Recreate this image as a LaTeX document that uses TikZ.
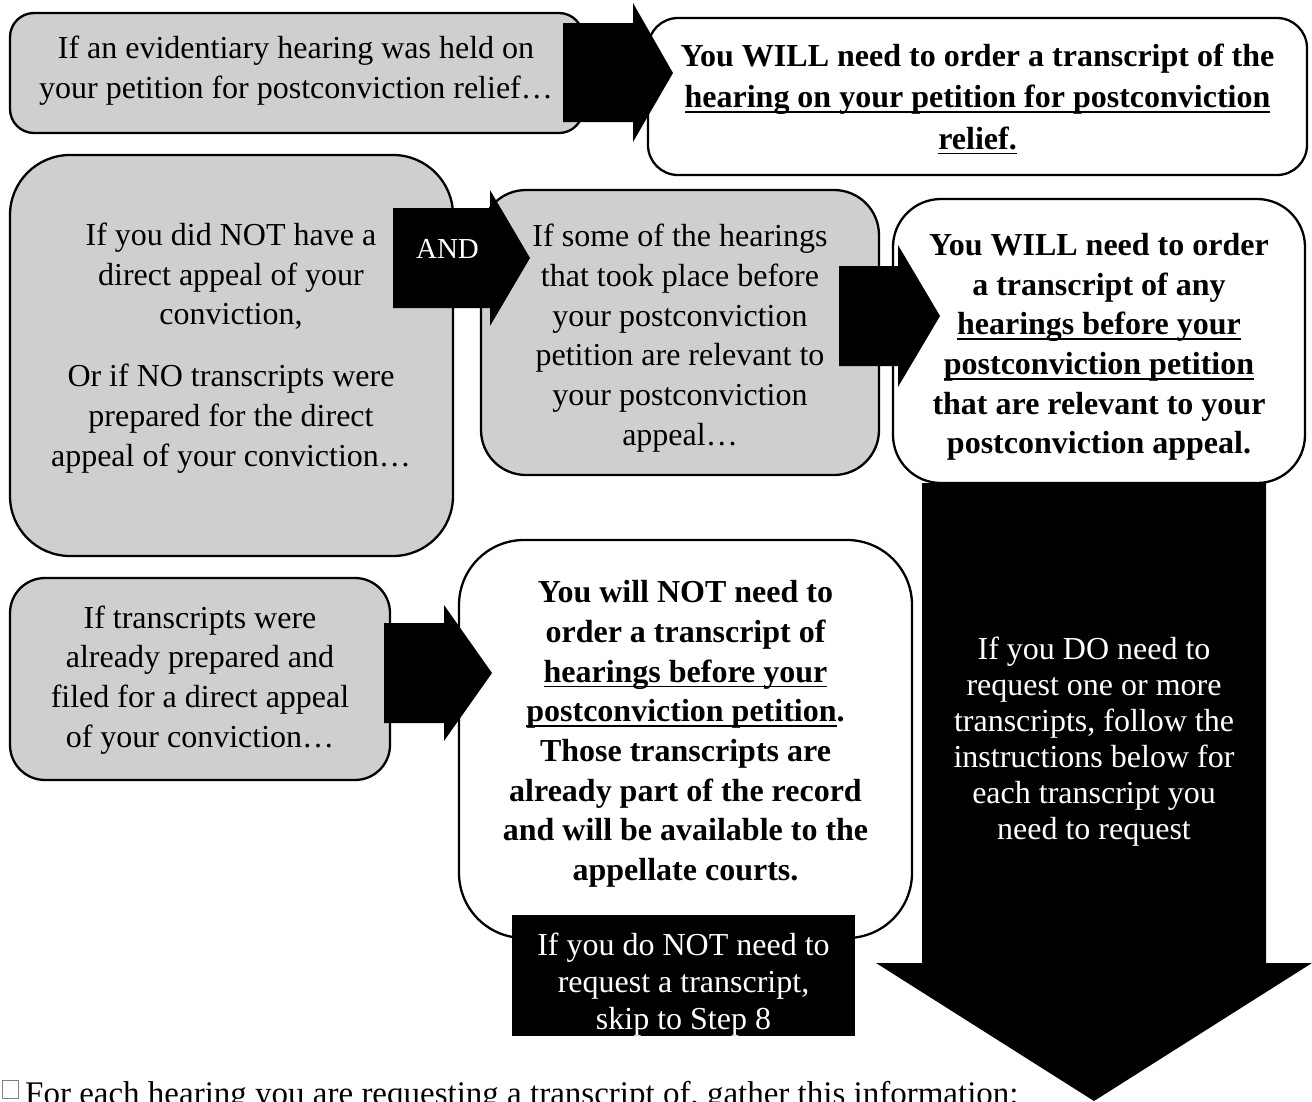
\documentclass[tikz,border=0pt]{standalone}
\usepackage{fontspec}
\setmainfont{Liberation Serif}
\usepackage{tikz}
\usetikzlibrary{positioning}

\definecolor{boxgray}{RGB}{208,206,206}

\newcommand{\hul}[1]{\setbox0\hbox{#1}\rlap{\rule[-5pt]{\wd0}{1.6pt}}\box0}

\tikzset{
	graybox/.style={draw=black, fill=boxgray, line width=2.3pt},
	whitebox/.style={draw=black, fill=white, line width=2.3pt},
	boxtext/.style={align=center, inner sep=0pt, font=\fontsize{32}{39.7}\selectfont},
	boldtext/.style={boxtext, font=\fontsize{32}{39.7}\selectfont\bfseries},
	blacktext/.style={align=center, inner sep=0pt, text=white, font=\fontsize{32}{36}\selectfont},
}

\begin{document}
\begin{tikzpicture}[x=1pt, y=-1pt]
	\useasboundingbox (0,0) rectangle (1312,1101);
	
	\draw [graybox, rounded corners=24pt] (10,13) rectangle (583,133);
	\draw [whitebox, rounded corners=30pt] (648,18) rectangle (1307,175);
	
	\draw [graybox, rounded corners=60pt] (10,155) rectangle (453,556);
	\draw [graybox, rounded corners=45pt] (481,190) rectangle (879,475);
	\draw [whitebox, rounded corners=48pt] (893,199) rectangle (1305,483);
	
	\draw [graybox, rounded corners=35pt] (10,578) rectangle (390,780);
	\draw [whitebox, rounded corners=65pt] (459,540) rectangle (912,938);
	
	% % % % % % % % % % % % % % % % % % % % % % % % % %
	
	\fill (563,23) -- (633,23) -- (633,3) -- (673,73) -- (633,142) -- (633,122) -- (563,122) -- cycle;
	\fill (393,208) -- (490,208) -- (490,190) -- (530,258) -- (490,326) -- (490,308) -- (393,308) -- cycle;
	\fill (839,266) -- (898,266) -- (898,245) -- (940,316) -- (898,387) -- (898,366) -- (839,366) -- cycle;
	\fill (384,623) -- (444,623) -- (444,605) -- (492,673) -- (444,741) -- (444,723) -- (384,723) -- cycle;
	
	\fill (922,483) -- (1266,483) -- (1266,963) -- (1312,963) -- (1094,1101) -- (876,963) -- (922,963) -- cycle;
	
	\node [fill=black, minimum width=343pt, minimum height=121pt, inner sep=0pt] (skipbox) at (683.5,975.5) {};
	
	% % % % % % % % % % % % % % % % % % % % % % % % % %
	
	\node [boxtext] (heldtext) at (296,70.4) {If an evidentiary hearing was held on\\your petition for postconviction relief…};
	\node [boldtext, font=\fontsize{32}{41.5}\selectfont\bfseries] (reliefwill) at (977.5,99) {You WILL need to order a transcript of the\\\hul{hearing on your petition for postconviction}\\\hul{relief.}};
	
	\node [boxtext] (nodirect) at (231,348) {If you did NOT have a\\direct appeal of your\\conviction,\\[22pt]Or if NO transcripts were\\prepared for the direct\\appeal of your conviction…};
	\node [boxtext] (relevant) at (680,338) {If some of the hearings\\that took place before\\your postconviction\\petition are relevant to\\your postconviction\\appeal…};
	\node [boldtext] (beforewill) at (1099,347) {You WILL need to order\\a transcript of any\\\hul{hearings before your}\\\hul{postconviction petition}\\that are relevant to your\\postconviction appeal.};
	
	\node [boxtext] (alreadyfiled) at (200,680) {If transcripts were\\already prepared and\\filed for a direct appeal\\of your conviction…};
	\node [boldtext] (willnot) at (685.5,734) {You will NOT need to\\order a transcript of\\\hul{hearings before your}\\\hul{postconviction petition}.\\Those transcripts are\\already part of the record\\and will be available to the\\appellate courts.};
	
	\node [text=white, inner sep=0pt, font=\fontsize{29}{34}\selectfont] (andlbl) at (447.5,248.5) {AND};
	\node [blacktext] (dotext) at (1094,741.5) {If you DO need to\\request one or more\\transcripts, follow the\\instructions below for\\each transcript you\\need to request};
	\node [blacktext, font=\fontsize{32}{37}\selectfont] (skiptext) at (683.5,985) {If you do NOT need to\\request a transcript,\\skip to Step 8};
	
	\node [draw=gray, line width=0.8pt, minimum width=16pt, minimum height=18pt, inner sep=0pt] (checkbox) at (10,1089) {};
	\node [anchor=base west, inner sep=0pt, font=\fontsize{33}{38}\selectfont] (gathertext) at (25,1104) {For each hearing you are requesting a transcript of, gather this information:};
\end{tikzpicture}
\end{document}
